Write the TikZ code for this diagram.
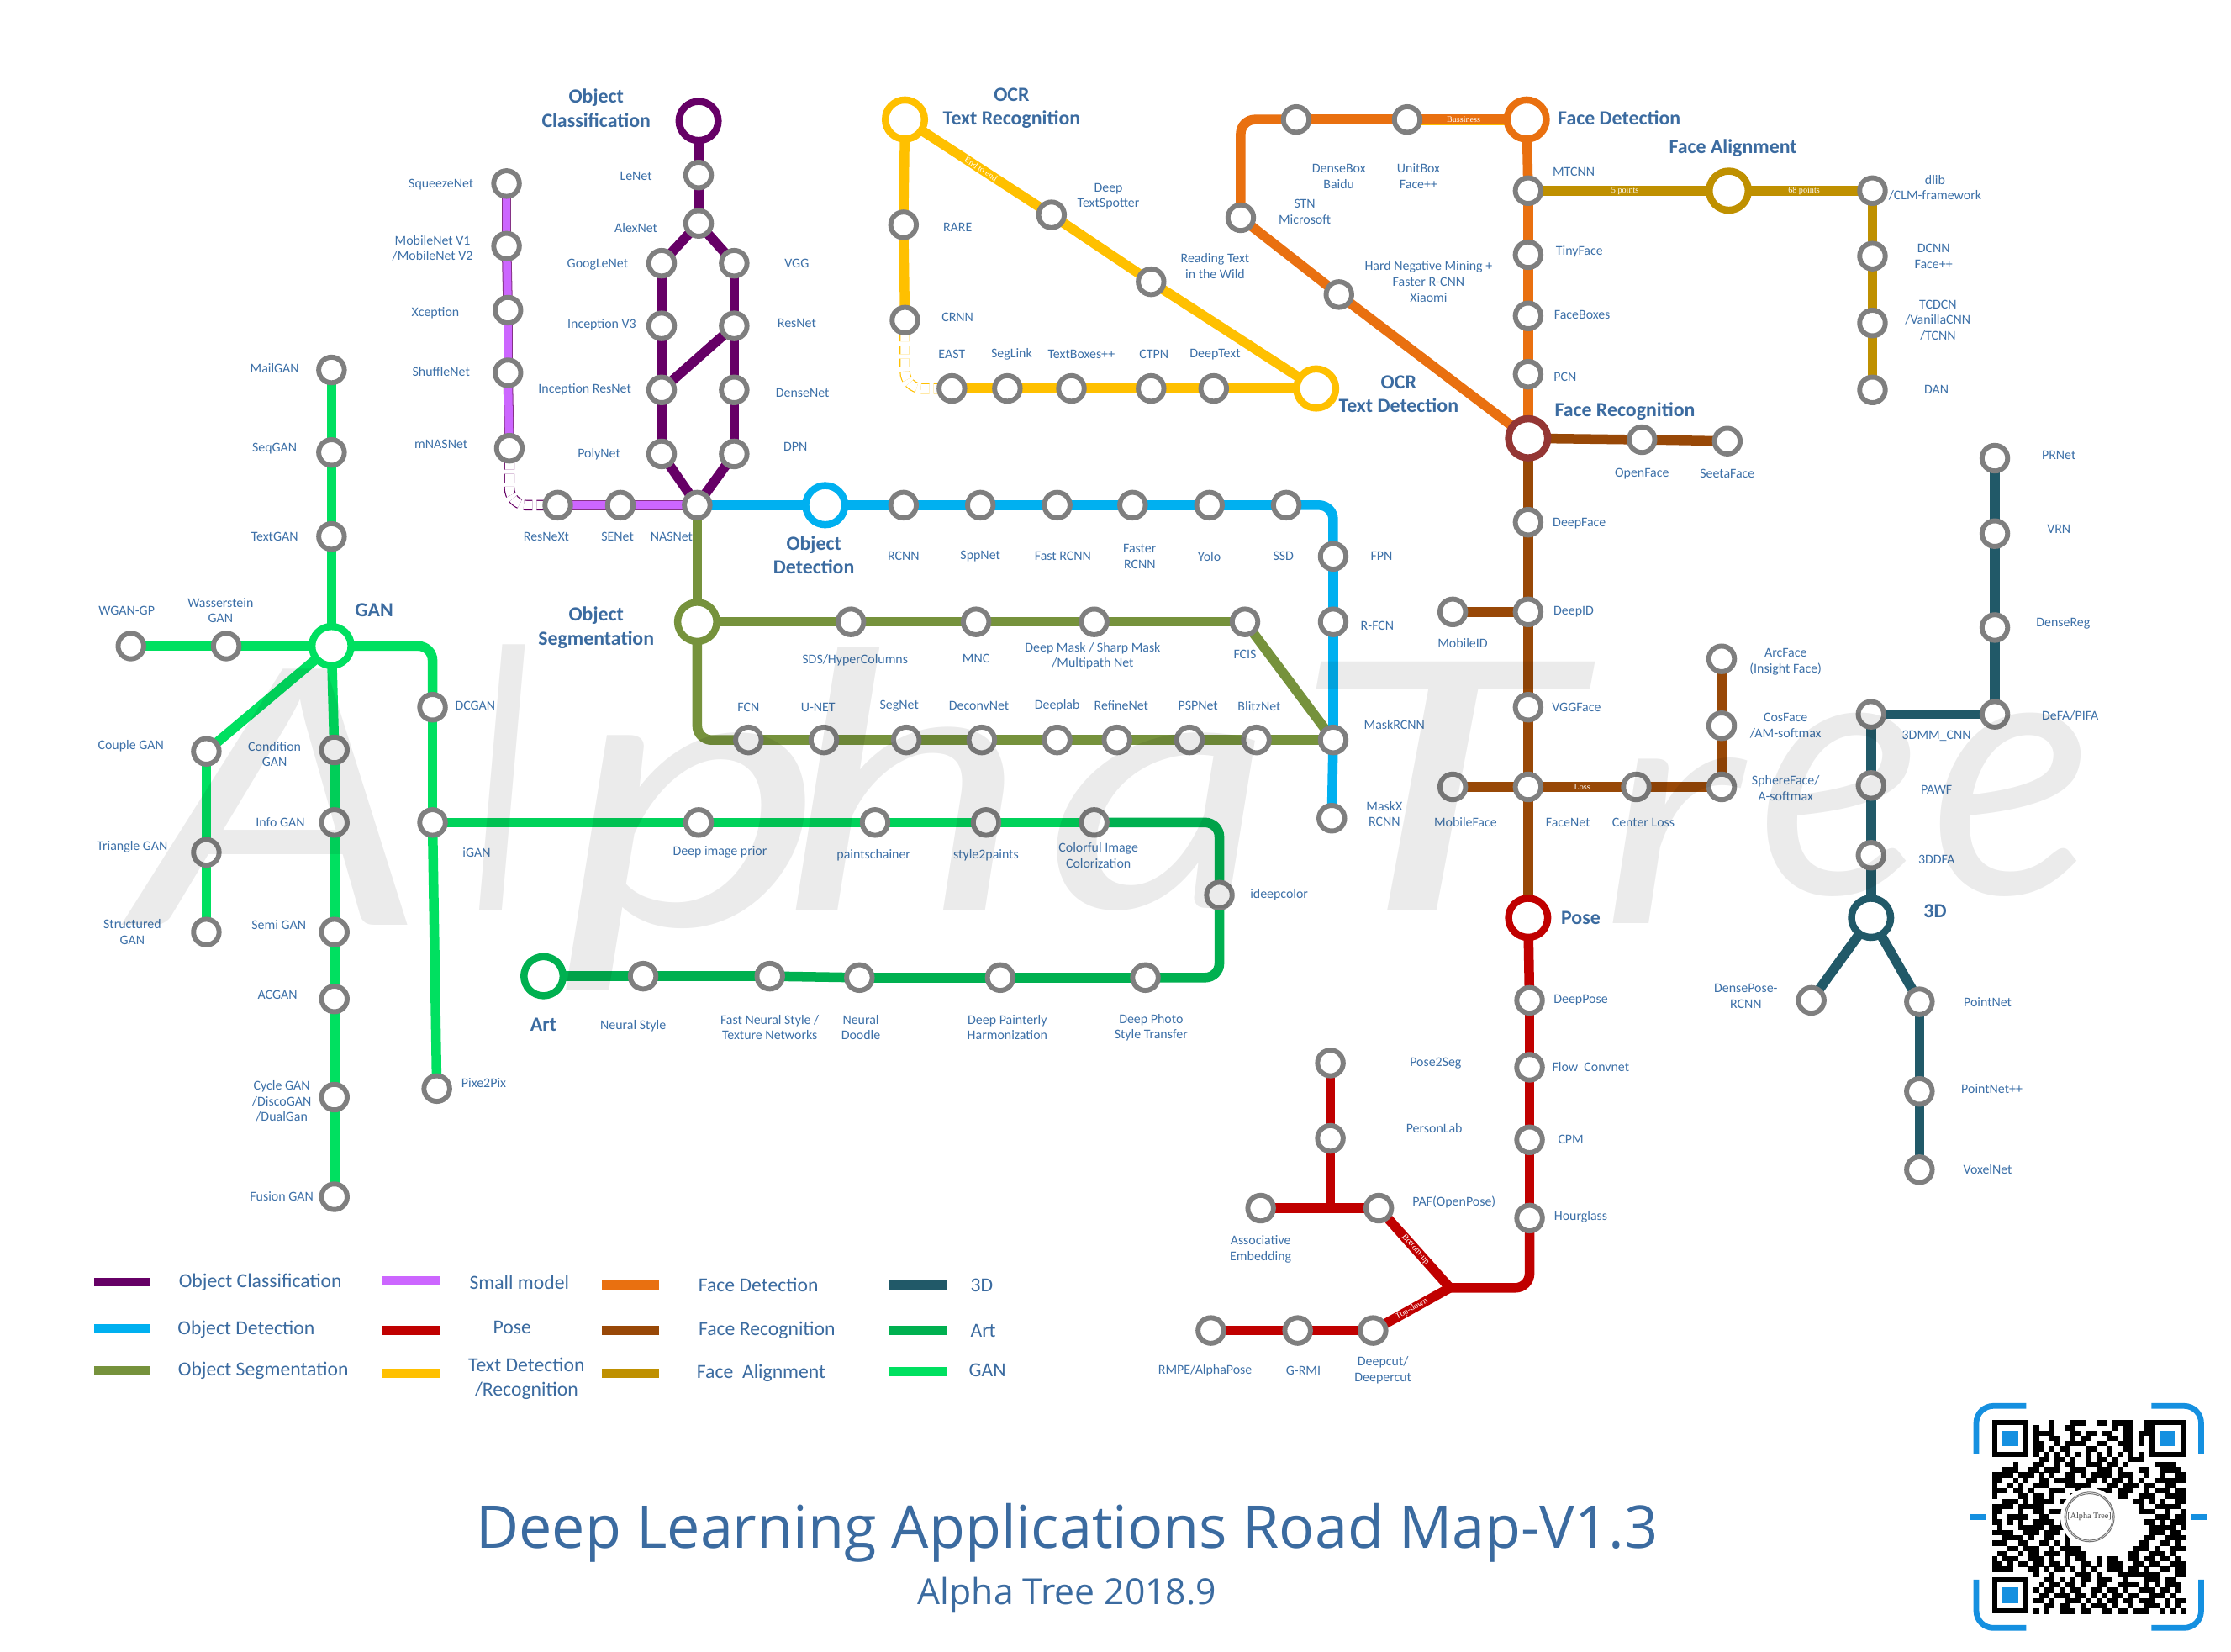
\documentclass[tikz,border=0pt]{standalone}
\usepackage{graphicx}
\usepackage{fontspec}
\setmainfont{Carlito}
\newfontfamily\titlef{Open Sans}
\newfontfamily\wmf{Lato}
\newfontfamily\serf{Liberation Serif}
\definecolor{tc}{HTML}{3B6BA0}
\definecolor{tl}{HTML}{3C70A8}
\definecolor{cpur}{HTML}{660066}
\definecolor{csm}{HTML}{CC66FF}
\definecolor{cdet}{HTML}{00B0F0}
\definecolor{cseg}{HTML}{76923C}
\definecolor{cyel}{HTML}{FFC000}
\definecolor{cora}{HTML}{E97010}
\definecolor{cfr}{HTML}{984807}
\definecolor{cfrr}{HTML}{943634}
\definecolor{cfa}{HTML}{BF9000}
\definecolor{cred}{HTML}{C00000}
\definecolor{ctd}{HTML}{215968}
\definecolor{cart}{HTML}{00B050}
\definecolor{cgan}{HTML}{00E060}
\definecolor{cig}{HTML}{00D25A}
\definecolor{cst}{HTML}{7F7F7F}
\definecolor{cqr}{HTML}{1590E0}
\pgfdeclarelayer{lines}
\pgfdeclarelayer{wm}
\pgfsetlayers{lines,main,wm}
\newcounter{lc}
\newcommand\st[3]{\node[stn] (#1) at (#2,#3) {};}
\newcommand\term[4]{\node[trm,draw=#4] (#1) at (#2,#3) {};}
\newcommand\lab[3]{\stepcounter{lc}\node[lab] (lab\thelc) at (#1,#2) {#3};}
\newcommand\ttl[3]{\stepcounter{lc}\node[ttlb] (lab\thelc) at (#1,#2) {#3};}
\newcommand\leg[3]{\stepcounter{lc}\node[legt] (lab\thelc) at (#1,#2) {#3};}
\newcommand\swatch[3]{\stepcounter{lc}\node[swt,fill=#3] (sw\thelc) at (#1,#2) {};}
\newcommand\wml[6]{\pgfmathsetmacro\wmw{(#3-#2)*.5}\pgfmathsetmacro\wmh{(#5-#4)*.5}\node[wmk] (#1) at ({(#2+#3)/2},{(#4+#5)/2}) {\resizebox*{\wmw pt}{\wmh pt}{\wmf\itshape #6}};}
\newcount\qrc \newcount\qrr
\def\qrparse#1{\ifx#1.\else\if#11\fill[black] ({1400+3.676*\the\qrc},{998+3.676*\the\qrr}) rectangle ++(3.72,3.72);\fi\advance\qrc by 1\relax\expandafter\qrparse\fi}
\def\qrrow#1{\qrc=0 \qrparse#1.\advance\qrr by 1\relax}
\newcommand\finder[2]{%
\fill[black] ({1400+3.676*#1},{998+3.676*#2}) rectangle ++(25.73,25.73);
\fill[white] ({1400+3.676*(#1+1)},{998+3.676*(#2+1)}) rectangle ++(18.38,18.38);
\fill[cqr] ({1400+3.676*(#1+2)},{998+3.676*(#2+2)}) rectangle ++(11.03,11.03);}
\tikzset{
 stn/.style={circle,draw=cst,fill=white,line width=1.75pt,minimum size=9pt,inner sep=0,outer sep=0},
 trm/.style={circle,fill=white,line width=2.5pt,minimum size=13.75pt,inner sep=0,outer sep=0},
 lab/.style={text=tl,align=center,inner sep=0,font=\fontsize{4.7}{5.5}\selectfont},
 ttlb/.style={text=tc,align=center,inner sep=0,font=\fontsize{7.05}{8.5}\selectfont\bfseries},
 legt/.style={text=tc,align=center,inner sep=0,font=\fontsize{7}{8.6}\selectfont},
 swt/.style={rectangle,draw=none,minimum width=20pt,minimum height=3.2pt,inner sep=0,outer sep=0},
 ln/.style={line width=3.4pt,line join=round,rounded corners=5pt},
 onl/.style={text=white,inner sep=0,font=\serf\fontsize{3}{3}\selectfont},
 smallln/.style={ln,draw=cpur!80!white,postaction={draw=csm,line width=2.8pt}},
 dashdbl/.style={dashed,dash pattern=on 3pt off 1.5pt,line width=0.35pt,double=white,double distance=3pt,rounded corners=6pt},
 bracket/.style={draw=cqr,line width=2pt,rounded corners=6pt},
 wmk/.style={inner sep=0,text=black,text opacity=0.08},
}
\begin{document}
\begin{tikzpicture}[x=0.5pt,y=-0.5pt]
\useasboundingbox (0,0) rectangle (1568,1160.4);
\begin{pgfonlayer}{lines}
\fill[white] (0,0) rectangle (1568,1160.4);
\end{pgfonlayer}
% --- stations
\term{oc}{491}{85}{cpur}
\st{lenet}{491}{123}\st{alex}{491}{157}\st{goog}{465}{185}\st{vgg}{516}{185}\st{incv}{465}{229}\st{res}{516}{229}\st{incr}{465}{274}\st{dense}{516}{274}\st{poly}{465}{319}\st{dpn}{516}{319}\st{nas}{490}{355}
\st{sq}{356}{129}\st{mob}{356}{173}\st{xc}{357}{218}\st{sh}{357}{262}\st{mnas}{358}{315}\st{rnx}{392}{355}\st{se}{436}{355}
\term{od}{580}{355}{cdet}
\st{rcnn}{635}{355}\st{spp}{689}{355}\st{frc}{743}{355}\st{frr}{796}{355}\st{yolo}{850}{355}\st{ssd}{904}{355}\st{fpn}{937}{391}\st{rfcn}{937}{437}\st{mask}{937}{520}\st{maskx}{936}{575}
\term{os}{490}{437}{cseg}
\st{sds}{598}{437}\st{mnc}{686}{437}\st{dm}{769}{437}\st{fcis}{875}{437}
\st{fcn}{526}{520}\st{unet}{579}{520}\st{seg}{637}{520}\st{dec}{690}{520}\st{dl}{743}{520}\st{ref}{785}{520}\st{psp}{836}{520}\st{bl}{883}{520}
\term{gan}{233}{454}{cgan}
\st{mail}{233}{260}\st{seq}{233}{318}\st{tg}{233}{377}\st{was}{159}{454}\st{wg}{92}{454}
\st{coup}{145}{528}\st{tri}{145}{599}\st{stru}{145}{655}
\st{cond}{235}{527}\st{info}{235}{578}\st{semi}{235}{655}\st{ac}{235}{702}\st{cyc}{235}{771}\st{fus}{235}{841}
\st{dc}{304}{497}\st{ig}{304}{578}\st{pix}{307}{765}
\st{dip}{491}{578}\st{pc}{615}{578}\st{s2p}{693}{578}\st{col}{769}{578}\st{idc}{857}{629}
\term{art}{382}{686}{cart}
\st{ns}{452}{686}\st{fns}{541}{686}\st{nd}{604}{687}\st{dph}{703}{687}\st{dps}{805}{687}
\term{tr}{636}{84}{cyel}
\st{rare}{635}{158}\st{crnn}{636}{225}\st{dts}{739}{151}\st{rtw}{809}{198}
\term{td}{925}{273}{cyel}
\st{east}{669}{273}\st{sl}{708}{273}\st{tb}{753}{273}\st{ctpn}{809}{273}\st{dt}{853}{273}
\term{fd}{1073}{84}{cora}
\st{ub}{989}{84}\st{db}{911}{84}\st{stnm}{872}{153}\st{hn}{941}{207}
\st{mt}{1074}{134}\st{tf}{1074}{179}\st{fb}{1074}{222}\st{pcn}{1074}{263}
\term{fa}{1215}{134}{cfa}
\st{dlib}{1316}{134}\st{dcnn}{1316}{180}\st{tcd}{1316}{227}\st{dan}{1316}{274}
\term{fr}{1074}{308}{cfrr}
\st{opf}{1154}{309}\st{sf}{1214}{310}\st{dfc}{1074}{367}\st{did}{1074}{430}\st{mid}{1021}{430}\st{vf}{1074}{497}\st{fn}{1074}{553}\st{mf}{1021}{553}\st{cl}{1150}{553}\st{sph}{1210}{553}\st{cos}{1210}{510}\st{arc}{1210}{463}
\term{pose}{1074}{645}{cred}
\st{dp}{1075}{703}\st{flow}{1075}{750}\st{cpm}{1075}{801}\st{hg}{1075}{856}
\st{paf}{969}{849}\st{p2s}{935}{747}\st{pl}{935}{800}\st{ae}{886}{849}\st{dcut}{965}{935}\st{grmi}{912}{935}\st{rmpe}{851}{935}
\coordinate (jp) at (1019,905);
\coordinate (jq) at (935,849);
\st{prn}{1402}{322}\st{vrn}{1402}{375}\st{drg}{1402}{441}\st{defa}{1402}{502}\st{dmm}{1315}{502}\st{pawf}{1315}{552}\st{ddfa}{1315}{601}
\term{d3}{1315}{645}{ctd}
\st{dsp}{1273}{703}\st{ptn}{1349}{704}\st{ptp}{1349}{767}\st{vox}{1349}{822}
% --- connectors
\begin{pgfonlayer}{lines}
\draw[ln,cpur] (oc)--(lenet); \draw[ln,cpur] (lenet)--(alex); \draw[ln,cpur] (alex)--(goog); \draw[ln,cpur] (alex)--(vgg);
\draw[ln,cpur] (goog)--(incv); \draw[ln,cpur] (incv)--(incr); \draw[ln,cpur] (incr)--(poly); \draw[ln,cpur] (poly)--(nas);
\draw[ln,cpur] (vgg)--(res); \draw[ln,cpur] (res)--(dense); \draw[ln,cpur] (dense)--(dpn); \draw[ln,cpur] (dpn)--(nas); \draw[ln,cpur] (res)--(incr);
\draw[smallln] (sq)--(mob); \draw[smallln] (mob)--(xc); \draw[smallln] (xc)--(sh); \draw[smallln] (sh)--(mnas);
\draw[smallln] (rnx)--(se); \draw[smallln] (se)--(nas);
\draw[dashdbl,cpur] (mnas) |- (rnx);
\draw[ln,cdet] (nas)--(od); \draw[ln,cdet] (od)--(rcnn); \draw[ln,cdet] (rcnn)--(spp); \draw[ln,cdet] (spp)--(frc); \draw[ln,cdet] (frc)--(frr); \draw[ln,cdet] (frr)--(yolo); \draw[ln,cdet] (yolo)--(ssd);
\draw[ln,cdet] (ssd) -| (fpn); \draw[ln,cdet] (fpn)--(rfcn); \draw[ln,cdet] (rfcn)--(mask); \draw[ln,cdet] (mask)--(maskx);
\draw[ln,cseg] (nas)--(os); \draw[ln,cseg] (os)--(sds); \draw[ln,cseg] (sds)--(mnc); \draw[ln,cseg] (mnc)--(dm); \draw[ln,cseg] (dm)--(fcis); \draw[ln,cseg] (fcis)--(mask);
\draw[ln,cseg] (os) |- (fcn); \draw[ln,cseg] (fcn)--(unet); \draw[ln,cseg] (unet)--(seg); \draw[ln,cseg] (seg)--(dec); \draw[ln,cseg] (dec)--(dl); \draw[ln,cseg] (dl)--(ref); \draw[ln,cseg] (ref)--(psp); \draw[ln,cseg] (psp)--(bl); \draw[ln,cseg] (bl)--(mask);
\draw[ln,cgan] (mail)--(seq); \draw[ln,cgan] (seq)--(tg); \draw[ln,cgan] (tg)--(gan); \draw[ln,cgan] (gan)--(was); \draw[ln,cgan] (was)--(wg);
\draw[ln,cgan] (gan)--(coup); \draw[ln,cgan] (coup)--(tri); \draw[ln,cgan] (tri)--(stru);
\draw[ln,cgan] (gan)--(cond); \draw[ln,cgan] (cond)--(info); \draw[ln,cgan] (info)--(semi); \draw[ln,cgan] (semi)--(ac); \draw[ln,cgan] (ac)--(cyc); \draw[ln,cgan] (cyc)--(fus);
\draw[ln,cgan] (gan) -| (dc); \draw[ln,cgan] (dc)--(ig); \draw[ln,cgan] (ig)--(pix);
\draw[ln,cig] (ig)--(dip); \draw[ln,cig] (dip)--(pc); \draw[ln,cig] (pc)--(s2p); \draw[ln,cig] (s2p)--(col);
\draw[ln,cart] (col) -| (idc); \draw[ln,cart] (idc) |- (dps); \draw[ln,cart] (dps)--(dph); \draw[ln,cart] (dph)--(nd); \draw[ln,cart] (nd)--(fns); \draw[ln,cart] (fns)--(ns); \draw[ln,cart] (ns)--(art);
\draw[ln,cyel] (tr)--(rare); \draw[ln,cyel] (rare)--(crnn);
\draw[ln,cyel] (tr)--(dts) node[onl,sloped,pos=.5] (lbe) {End to end};
\draw[ln,cyel] (dts)--(rtw); \draw[ln,cyel] (rtw)--(td);
\draw[ln,cyel] (east)--(sl); \draw[ln,cyel] (sl)--(tb); \draw[ln,cyel] (tb)--(ctpn); \draw[ln,cyel] (ctpn)--(dt); \draw[ln,cyel] (dt)--(td);
\draw[dashdbl,cyel] (crnn) |- (east);
\draw[line width=3.9pt,cyel] (fd)--(ub);
\draw[ln,cora] (fd)--(ub) node[onl,midway] (lbb) {Bussiness};
\draw[ln,cora] (ub)--(db); \draw[ln,cora] (db) -| (stnm); \draw[ln,cora] (stnm)--(hn); \draw[ln,cora] (hn)--(fr);
\draw[ln,cora] (fd)--(mt); \draw[ln,cora] (mt)--(tf); \draw[ln,cora] (tf)--(fb); \draw[ln,cora] (fb)--(pcn); \draw[ln,cora] (pcn)--(fr);
\draw[ln,cfa] (mt)--(fa) node[onl,midway] (lbf) {5 points};
\draw[ln,cfa] (fa)--(dlib) node[onl,midway] (lbs) {68 points};
\draw[ln,cfa] (dlib)--(dcnn); \draw[ln,cfa] (dcnn)--(tcd); \draw[ln,cfa] (tcd)--(dan);
\draw[ln,cfr] (fr)--(opf); \draw[ln,cfr] (opf)--(sf); \draw[ln,cfr] (fr)--(dfc); \draw[ln,cfr] (dfc)--(did); \draw[ln,cfr] (did)--(mid); \draw[ln,cfr] (did)--(vf); \draw[ln,cfr] (vf)--(fn); \draw[ln,cfr] (fn)--(mf);
\draw[ln,cfr] (fn)--(cl) node[onl,midway] (lbl) {Loss};
\draw[ln,cfr] (cl)--(sph); \draw[ln,cfr] (sph)--(cos); \draw[ln,cfr] (cos)--(arc); \draw[ln,cfr] (fn)--(pose);
\draw[ln,cred] (pose)--(dp); \draw[ln,cred] (dp)--(flow); \draw[ln,cred] (flow)--(cpm); \draw[ln,cred] (cpm)--(hg);
\draw[ln,cred] (hg) |- (jp);
\draw[ln,cred] (paf)--(jp) node[onl,sloped,pos=.45] (lbu) {Bottom-up};
\draw[ln,cred] (dcut)--(jp) node[onl,sloped,pos=.42] (lbd) {Top-down};
\draw[ln,cred] (dcut)--(grmi); \draw[ln,cred] (grmi)--(rmpe);
\draw[ln,cred] (ae)--(paf); \draw[ln,cred] (p2s)--(pl); \draw[ln,cred] (pl)--(jq);
\draw[ln,ctd] (prn)--(vrn); \draw[ln,ctd] (vrn)--(drg); \draw[ln,ctd] (drg)--(defa); \draw[ln,ctd] (defa)--(dmm); \draw[ln,ctd] (dmm)--(pawf); \draw[ln,ctd] (pawf)--(ddfa); \draw[ln,ctd] (ddfa)--(d3);
\draw[ln,ctd] (d3)--(dsp); \draw[ln,ctd] (d3)--(ptn); \draw[ln,ctd] (ptn)--(ptp); \draw[ln,ctd] (ptp)--(vox);
\end{pgfonlayer}
% --- watermark
\begin{pgfonlayer}{wm}
\wml{wa}{96}{300}{470}{650}{A}
\wml{wl}{331}{372}{453}{640}{l}
\wml{wp}{395}{580}{515}{696}{p}
\wml{wh}{550}{725}{455}{640}{h}
\wml{wb}{735}{895}{515}{640}{a}
\wml{wt}{905}{1108}{465}{640}{T}
\wml{wr}{1125}{1224}{532}{649}{r}
\wml{we}{1235}{1352}{501}{630}{e}
\wml{wf}{1357}{1472}{501}{630}{e}
\end{pgfonlayer}
% --- titles
\ttl{419}{76}{Object\\Classification}
\ttl{572}{390}{Object\\Detection}
\ttl{419}{441}{Object\\Segmentation}
\ttl{263}{429}{GAN}
\ttl{382}{720}{Art}
\ttl{711}{76}{OCR\\Text Recognition}
\ttl{983}{277}{OCR\\Text Detection}
\ttl{1138}{83}{Face Detection}
\ttl{1218}{104}{Face Alignment}
\ttl{1142}{289}{Face Recognition}
\ttl{1111}{645}{Pose}
\ttl{1360}{640}{3D}
% --- labels
\lab{447}{124}{LeNet}\lab{447}{160}{AlexNet}\lab{420}{186}{GoogLeNet}\lab{423}{228}{Inception V3}\lab{411}{274}{Inception ResNet}\lab{421}{319}{PolyNet}
\lab{560}{185}{VGG}\lab{560}{227}{ResNet}\lab{564}{276}{DenseNet}\lab{559}{314}{DPN}
\lab{310}{130}{SqueezeNet}\lab{304}{174.5}{MobileNet V1\\/MobileNet V2}\lab{306}{220}{Xception}\lab{310}{261}{ShuffleNet}\lab{310}{312}{mNASNet}
\lab{384}{377}{ResNeXt}\lab{434}{377}{SENet}\lab{472}{377}{NASNet}
\lab{635}{391}{RCNN}\lab{689}{391}{SppNet}\lab{747}{391}{Fast RCNN}\lab{801}{391}{Faster\\RCNN}\lab{850}{391}{Yolo}\lab{902}{391}{SSD}
\lab{971}{391}{FPN}\lab{968}{440}{R-FCN}\lab{980}{509}{MaskRCNN}\lab{973}{572}{MaskX\\RCNN}
\lab{601}{464}{SDS/HyperColumns}\lab{686}{463}{MNC}\lab{768}{461}{Deep Mask / Sharp Mask\\/Multipath Net}\lab{875}{460}{FCIS}
\lab{526}{497}{FCN}\lab{575}{497}{U-NET}\lab{632}{496}{SegNet}\lab{688}{496}{DeconvNet}\lab{743}{496}{Deeplab}\lab{788}{496}{RefineNet}\lab{842}{496}{PSPNet}\lab{885}{496}{BlitzNet}
\lab{193}{259}{MailGAN}\lab{193}{315}{SeqGAN}\lab{193}{377}{TextGAN}\lab{89}{429}{WGAN-GP}\lab{155}{429}{Wasserstein\\GAN}
\lab{92}{524}{Couple GAN}\lab{193}{530}{Condition\\GAN}\lab{197}{578}{Info GAN}\lab{93}{595}{Triangle GAN}\lab{93}{655}{Structured\\GAN}\lab{196}{650}{Semi GAN}\lab{195}{699}{ACGAN}\lab{198}{774}{Cycle GAN\\/DiscoGAN\\/DualGan}\lab{198}{841}{Fusion GAN}
\lab{334}{496}{DCGAN}\lab{335}{599}{iGAN}\lab{340}{761}{Pixe2Pix}
\lab{506}{599}{Deep image prior}\lab{614}{601}{paintschainer}\lab{693}{601}{style2paints}\lab{772}{601}{Colorful Image\\Colorization}\lab{899}{629}{ideepcolor}
\lab{445}{721}{Neural Style}\lab{541}{722}{Fast Neural Style /\\Texture Networks}\lab{605}{722}{Neural\\Doodle}\lab{708}{722}{Deep Painterly\\Harmonization}\lab{809}{722}{Deep Photo\\Style Transfer}
\lab{673}{160}{RARE}\lab{673}{223}{CRNN}\lab{779}{138}{Deep\\TextSpotter}\lab{854}{187}{Reading Text\\in the Wild}
\lab{669}{249}{EAST}\lab{711}{249}{SegLink}\lab{760}{249}{TextBoxes++}\lab{811}{249}{CTPN}\lab{854}{249}{DeepText}
\lab{941}{124}{DenseBox\\Baidu}\lab{997}{124}{UnitBox\\Face++}\lab{917}{149}{STN\\Microsoft}\lab{1004}{198}{Hard Negative Mining +\\Faster R-CNN\\Xiaomi}
\lab{1106}{121}{MTCNN}\lab{1110}{177}{TinyFace}\lab{1112}{221}{FaceBoxes}\lab{1100}{265}{PCN}
\lab{1360}{132}{dlib\\/CLM-framework}\lab{1359}{180}{DCNN\\Face++}\lab{1362}{225}{TCDCN\\/VanillaCNN\\/TCNN}\lab{1361}{274}{DAN}
\lab{1154}{333}{OpenFace}\lab{1214}{333}{SeetaFace}\lab{1110}{368}{DeepFace}\lab{1106}{430}{DeepID}\lab{1028}{452}{MobileID}\lab{1108}{497}{VGGFace}
\lab{1102}{578}{FaceNet}\lab{1030}{578}{MobileFace}\lab{1155}{578}{Center Loss}\lab{1255}{465}{ArcFace\\(Insight Face)}\lab{1255}{510}{CosFace\\/AM-softmax}\lab{1255}{554}{SphereFace/\\A-softmax}
\lab{1111}{703}{DeepPose}\lab{1118}{750}{Flow~~Convnet}\lab{1104}{801}{CPM}\lab{1111}{855}{Hourglass}
\lab{1009}{747}{Pose2Seg}\lab{1008}{793}{PersonLab}\lab{1022}{845}{PAF(OpenPose)}\lab{886}{878}{Associative\\Embedding}\lab{847}{963}{RMPE/AlphaPose}\lab{916}{963}{G-RMI}\lab{972}{963}{Deepcut/\\Deepercut}
\lab{1447}{320}{PRNet}\lab{1447}{372}{VRN}\lab{1450}{438}{DenseReg}\lab{1455}{503}{DeFA/PIFA}\lab{1361}{517}{3DMM\_CNN}\lab{1361}{555}{PAWF}\lab{1361}{604}{3DDFA}
\lab{1227}{700}{DensePose-\\RCNN}\lab{1397}{704}{PointNet}\lab{1400}{765}{PointNet++}\lab{1397}{822}{VoxelNet}
% --- legend
\swatch{86}{901}{cpur}\swatch{86}{934}{cdet}\swatch{86}{963}{cseg}
\swatch{289}{900}{csm}\swatch{289}{935}{cred}\swatch{289}{965}{cyel}
\swatch{443}{903}{cora}\swatch{443}{935}{cfr}\swatch{443}{965}{cfa}
\swatch{645}{903}{ctd}\swatch{645}{935}{cart}\swatch{645}{964}{cgan}
\leg{183}{901}{Object Classification}\leg{173}{934}{Object Detection}\leg{185}{963}{Object Segmentation}
\leg{365}{901}{Small model}\leg{360}{933}{Pose}\leg{370}{969}{Text Detection\\/Recognition}
\leg{533}{903}{Face Detection}\leg{539}{935}{Face Recognition}\leg{535}{965}{Face~~Alignment}
\leg{690}{903}{3D}\leg{691}{935}{Art}\leg{694}{963}{GAN}
% --- title
\node[text=tc,inner sep=0,font=\titlef\fontsize{20.7}{24}\selectfont] (maintitle) at (750,1077) {Deep Learning Applications Road Map-V1.3};
\node[text=tc,inner sep=0,font=\titlef\fontsize{12.6}{14}\selectfont] (subtitle) at (750,1121) {Alpha Tree 2018.9};
% --- QR
\qrr=0
\qrrow{0000000000010001110011011110010000000}
\qrrow{0000000010010011000000010110010000000}
\qrrow{0000000011110001101101100110110000000}
\qrrow{0000000010011001011000110110100000000}
\qrrow{0000000011001011110011001110100000000}
\qrrow{0000000011010110001100100110000000000}
\qrrow{0000000010101010101010101010100000000}
\qrrow{0000000001101101001011010011100000000}
\qrrow{0000100011001011001110110100000111100}
\qrrow{0011100110111001110011101000110011110}
\qrrow{1111011101010011010111101110010010011}
\qrrow{1100101001101111001101011010100111111}
\qrrow{1001010011100011111000110111011001100}
\qrrow{1110110100011100100011101110010111011}
\qrrow{1000011011010001011000001100111001111}
\qrrow{0011101011110111000000000001101010011}
\qrrow{1111011111000011000000000000100111110}
\qrrow{1100010011011110000000000000111001001}
\qrrow{1001111001100110000000000000000111011}
\qrrow{1101010011110101000000000000011010111}
\qrrow{0100011111011110000000000000001111101}
\qrrow{1111001110111011000000000000001110110}
\qrrow{0011110100110010000000000000011001111}
\qrrow{1110011001101010000000000000110011010}
\qrrow{0001101110010111100000000001110100111}
\qrrow{0110010110111011110000000011001110100}
\qrrow{1011100111010010110010110011011011010}
\qrrow{1101011011011010011010111001101100111}
\qrrow{1111000110101101010100111011010011011}
\qrrow{0000000010010000111010001111111100011}
\qrrow{0000000000110101011011100100011101100}
\qrrow{0000000001011011010011001111010101110}
\qrrow{0000000010110101100110110100111011010}
\qrrow{0000000001101110110101011011001110100}
\qrrow{0000000011010011101010110110111001011}
\qrrow{0000000000110110010111010010011101010}
\qrrow{0000000010100111011001101101110010101}
\finder{0}{0}\finder{30}{0}\finder{0}{30}
\node[circle,fill=white,draw=white,line width=1pt,minimum size=19.4pt,inner sep=0] (qrlogo) at (1468.5,1066) {};
\draw[black!55,line width=0.3pt] (qrlogo) circle (8.7pt);
\draw[black!55,line width=0.3pt] (qrlogo) circle (8.2pt);
\node[inner sep=0,text=black!75,font=\serf\fontsize{3}{3}\selectfont] (qrtext) at (1468.5,1066) {[Alpha Tree]};
\draw[bracket] (1424,988) -- (1389,988) -- (1389,1022);
\draw[bracket] (1512,988) -- (1547,988) -- (1547,1022);
\draw[bracket] (1424,1144) -- (1389,1144) -- (1389,1110);
\draw[bracket] (1512,1144) -- (1547,1144) -- (1547,1110);
\draw[cqr,line width=2pt] (1385,1066) -- (1396,1066);
\draw[cqr,line width=2pt] (1540,1066) -- (1551,1066);
\end{tikzpicture}
\end{document}
